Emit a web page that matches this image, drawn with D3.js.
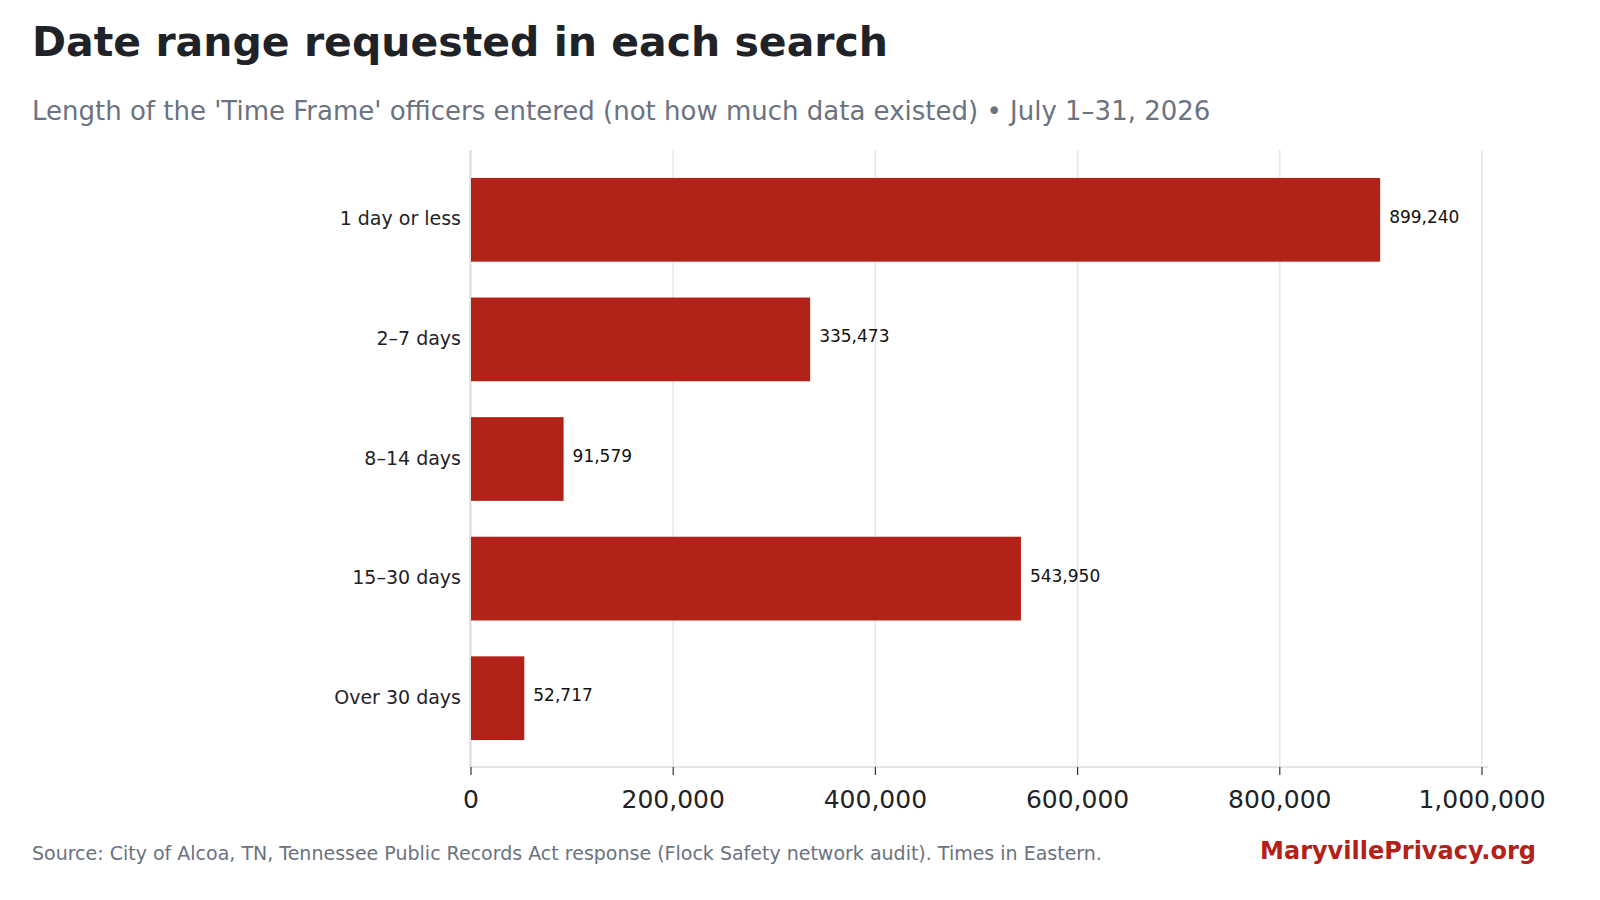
<!DOCTYPE html>
<html>
<head>
<meta charset="utf-8">
<script src="https://cdn.jsdelivr.net/npm/d3@7"></script>
<style>
  body { margin: 0; background: #fff; }
  svg { font-family: "DejaVu Sans", sans-serif; }
</style>
</head>
<body>
<div id="chart"></div>
<script>
// Data
var categories = ["1 day or less", "2–7 days", "8–14 days", "15–30 days", "Over 30 days"];
var values = [899240, 335473, 91579, 543950, 52717];
var ticks = [0, 200000, 400000, 600000, 800000, 1000000];

var W = 1600, H = 900;
var svg = d3.select("#chart").append("svg").attr("width", W).attr("height", H);

var x = d3.scaleLinear().domain([0, 1000000]).range([471, 1482]);
var y = d3.scaleBand().domain(categories).range([160, 758]).paddingInner(0.3).paddingOuter(0.15);

// Title
svg.append("text").attr("x", 32).attr("y", 56)
  .style("font-size", "41px").style("font-weight", "bold").style("fill", "#1f2328")
  .text("Date range requested in each search");
svg.append("text").attr("x", 32).attr("y", 120)
  .style("font-size", "26px").style("fill", "#6b7280")
  .text("Length of the 'Time Frame' officers entered (not how much data existed)  •  July 1–31, 2026");

// Grid
svg.selectAll("line.grid").data(ticks).enter().append("line")
  .attr("x1", d => x(d)).attr("x2", d => x(d))
  .attr("y1", 150).attr("y2", 767)
  .style("stroke", "#e5e5e5").style("stroke-width", 1.5);

// Axes lines
svg.append("line").attr("x1", 470).attr("x2", 1488).attr("y1", 767).attr("y2", 767)
  .style("stroke", "#dddddd").style("stroke-width", 1.5);
svg.append("line").attr("x1", 470).attr("x2", 470).attr("y1", 150).attr("y2", 767)
  .style("stroke", "#dddddd").style("stroke-width", 1.5);

// Bars
svg.selectAll("rect.bar").data(values).enter().append("rect")
  .attr("x", x(0)).attr("y", (d, i) => y(categories[i]))
  .attr("width", d => x(d) - x(0)).attr("height", y.bandwidth())
  .style("fill", "#b22218");

// Value labels
svg.selectAll("text.val").data(values).enter().append("text")
  .attr("x", d => x(d) + 9).attr("y", (d, i) => y(categories[i]) + y.bandwidth() / 2 - 2)
  .attr("dominant-baseline", "middle")
  .style("font-size", "17px").style("fill", "#111")
  .text(d => d3.format(",")(d));

// Category labels
svg.selectAll("text.cat").data(categories).enter().append("text")
  .attr("x", 461).attr("y", d => y(d) + y.bandwidth() / 2)
  .attr("text-anchor", "end").attr("dominant-baseline", "middle")
  .style("font-size", "19px").style("fill", "#1f2328")
  .text(d => d);

// X ticks
svg.selectAll("line.tick").data(ticks).enter().append("line")
  .attr("x1", d => x(d)).attr("x2", d => x(d)).attr("y1", 767).attr("y2", 775)
  .style("stroke", "#333").style("stroke-width", 1.2);
svg.selectAll("text.tick").data(ticks).enter().append("text")
  .attr("x", d => x(d)).attr("y", 808)
  .attr("text-anchor", "middle")
  .style("font-size", "25px").style("fill", "#1f2328")
  .text(d => d3.format(",")(d));

// Footer
svg.append("text").attr("x", 32).attr("y", 860)
  .style("font-size", "19px").style("fill", "#6b7280")
  .text("Source: City of Alcoa, TN, Tennessee Public Records Act response (Flock Safety network audit). Times in Eastern.");
svg.append("text").attr("x", 1536).attr("y", 859).attr("text-anchor", "end")
  .style("font-size", "24px").style("font-weight", "bold").style("fill", "#b22218")
  .text("MarydvillePrivacy.org".replace("Maryd", "Mary"));
</script>
</body>
</html>
